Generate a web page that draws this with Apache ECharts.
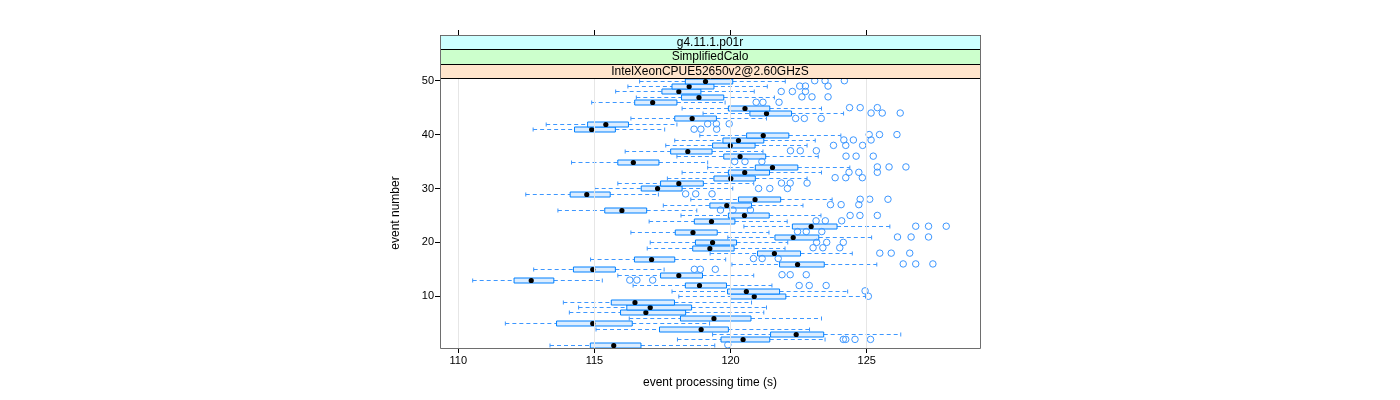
<!DOCTYPE html>
<html>
<head>
<meta charset="utf-8">
<script src="https://cdn.jsdelivr.net/npm/echarts@6/dist/echarts.min.js"></script>
<style>html,body{margin:0;padding:0;background:#fff;}#c{width:1400px;height:400px;}</style>
</head>
<body>
<div id="c"></div>
<script>
const events = [1,2,3,4,5,6,7,8,9,10,11,12,13,14,15,16,17,18,19,20,21,22,23,24,25,26,27,28,29,30,31,32,33,34,35,36,37,38,39,40,41,42,43,44,45,46,47,48,49,50];
const lowWhisker = [113.37,118.05,119.34,115.06,111.73,116.28,114.08,114.42,113.86,118.10,117.85,116.42,110.53,115.86,112.77,120.05,114.86,119.25,116.94,117.05,119.90,116.34,120.49,117.01,118.18,113.66,117.53,118.54,112.48,115.01,115.86,117.68,118.22,119.16,114.16,118.03,116.13,117.62,117.95,118.87,112.75,113.23,116.34,118.99,118.22,114.90,116.54,115.78,116.23,116.66];
const lowerQuartile = [114.85,119.65,121.47,117.39,113.61,118.16,115.96,116.19,115.62,120.00,119.89,118.34,112.05,117.43,114.23,121.80,116.47,120.99,118.61,118.71,121.63,117.97,122.27,118.67,119.92,115.38,119.24,120.29,114.11,116.72,117.43,119.39,119.92,120.91,115.86,119.75,117.80,119.34,119.72,120.59,114.27,114.75,117.95,120.71,119.92,116.48,118.20,117.48,117.85,118.34];
const median = [115.71,120.46,122.41,118.92,114.94,119.39,116.89,117.05,116.49,120.87,120.58,118.86,112.68,118.10,114.94,122.46,117.10,121.61,119.24,119.34,122.30,118.62,122.96,119.30,120.51,116.01,119.86,120.90,114.72,117.32,118.10,120.01,120.52,121.54,116.43,120.35,118.43,119.99,120.29,121.20,114.90,115.42,118.59,121.32,120.53,117.14,118.84,118.10,118.48,119.08];
const upperQuartile = [116.71,121.44,123.42,119.92,116.39,120.75,118.35,118.57,117.94,122.03,121.80,119.85,113.51,118.97,115.77,123.44,117.95,122.57,120.13,120.22,123.24,119.51,123.91,120.16,121.42,116.92,120.77,121.84,115.58,118.22,119.00,120.91,121.43,122.47,117.37,121.29,119.32,120.90,121.22,122.14,115.77,116.25,119.48,122.24,121.44,118.03,119.75,118.91,119.39,120.08];
const highWhisker = [119.42,123.47,126.25,122.90,119.23,123.34,121.22,121.32,120.77,124.99,124.30,121.52,115.29,120.85,117.56,125.37,119.82,124.47,122.00,122.10,125.18,121.41,125.85,122.08,123.32,118.76,122.66,123.73,117.35,120.08,120.85,122.81,123.34,124.38,119.16,123.22,121.19,122.81,123.11,124.05,117.58,118.03,121.32,124.15,123.34,119.80,121.61,120.87,121.35,122.01];
const outliers = [
  [119.90],
  [124.14,124.23,124.57,125.14],
  [], [], [], [], [], [], [],
  [125.06],
  [124.94],
  [122.52,122.89,123.51],
  [116.30,116.56,117.14],
  [121.89,122.19,122.78],
  [118.67,118.89,119.44],
  [126.34,126.80,127.43],
  [120.84,121.16,121.75],
  [125.48,125.90,126.58],
  [123.03,123.39,124.01],
  [123.16,123.53,124.14],
  [126.13,126.63,127.27],
  [122.46,122.78,123.35],
  [126.80,127.27,127.92],
  [123.14,123.48,124.08],
  [124.39,124.75,125.39],
  [119.63,120.09,120.73],
  [123.67,124.06,124.71],
  [124.76,125.11,125.78],
  [118.35,118.72,119.32],
  [121.03,121.44,122.09],
  [121.87,122.19,122.81],
  [123.84,124.23,124.84],
  [124.35,124.71,125.39],
  [125.39,125.82,126.44],
  [120.15,120.53,121.15],
  [124.24,124.61,125.24],
  [122.20,122.56,123.15],
  [123.78,124.23,124.85],
  [124.16,124.51,125.16],
  [125.09,125.47,126.11],
  [118.66,118.91,119.49],
  [119.16,119.48,119.95],
  [122.39,122.71,123.33],
  [125.16,125.57,126.23],
  [124.37,124.76,125.39],
  [120.94,121.19,121.78],
  [122.62,122.99,123.58],
  [121.86,122.27,122.75],
  [122.54,122.75,123.58],
  [123.09,123.47,124.18]
];
const xTicks = [110, 115, 120, 125];
const yTicks = [10, 20, 30, 40, 50];
const stripLabels = ['g4.11.1.p01r', 'SimplifiedCalo', 'IntelXeonCPUE52650v2@2.60GHzS'];
const stripColors = ['#ccffff', '#ccffcc', '#ffe5cc'];
const xTitle = 'event processing time (s)';
const yTitle = 'event number';

const FONT = 'Liberation Sans, Arial, Helvetica, sans-serif';
const BLUE = '#0080ff';

const boxData = events.map((e, i) => [e, lowWhisker[i], lowerQuartile[i], median[i], upperQuartile[i], highWhisker[i]]);
const outlierData = [];
events.forEach((e, i) => outliers[i].forEach(v => outlierData.push([v, e])));

const chart = echarts.init(document.getElementById('c'), null, {renderer: 'canvas'});

const PL = 440, PR = 980, PT = 78, PB = 348;
const stripTop = 35;
const stripH = (PT - stripTop) / 3;
const graphics = [];
stripLabels.forEach((lab, k) => {
  const y0 = stripTop + k * stripH;
  graphics.push({
    type: 'rect', z: 10,
    shape: {x: PL + 0.5, y: Math.round(y0) + 0.5, width: PR - PL, height: Math.round(y0 + stripH) - Math.round(y0)},
    style: {fill: stripColors[k], stroke: '#000', lineWidth: 1}
  });
  graphics.push({
    type: 'text', z: 11,
    style: {text: lab, x: (PL + PR) / 2, y: y0 + stripH / 2 + 0.5, align: 'center', verticalAlign: 'middle',
      font: '12px ' + FONT, fill: '#000'}
  });
});
graphics.push({
  type: 'rect', z: 12,
  shape: {x: PL + 0.5, y: stripTop + 0.5, width: PR - PL, height: PB - stripTop},
  style: {fill: 'none', stroke: '#6e6e6e', lineWidth: 1}
});

function renderBox(params, api) {
  const y = api.value(0);
  const lw = api.coord([api.value(1), y]);
  const q1 = api.coord([api.value(2), y]);
  const md = api.coord([api.value(3), y]);
  const q3 = api.coord([api.value(4), y]);
  const hw = api.coord([api.value(5), y]);
  const cy = Math.round(lw[1]) + 0.5;
  const dash = {stroke: '#3d97ff', lineWidth: 1, lineDash: [4, 3]};
  const solid = {stroke: '#3d97ff', lineWidth: 1};
  return {
    type: 'group',
    children: [
      {type: 'line', shape: {x1: lw[0], y1: cy, x2: q1[0], y2: cy}, style: dash},
      {type: 'line', shape: {x1: q3[0], y1: cy, x2: hw[0], y2: cy}, style: dash},
      {type: 'line', shape: {x1: lw[0], y1: cy - 2, x2: lw[0], y2: cy + 2}, style: solid},
      {type: 'line', shape: {x1: hw[0], y1: cy - 2, x2: hw[0], y2: cy + 2}, style: solid},
      {type: 'rect', shape: {x: q1[0], y: cy - 2.5, width: q3[0] - q1[0], height: 5},
        style: {fill: '#dcedff', stroke: BLUE, lineWidth: 1}},
      {type: 'circle', shape: {cx: md[0], cy: cy, r: 2.6}, style: {fill: '#000'}}
    ]
  };
}

const option = {
  backgroundColor: '#fff',
  animation: false,
  textStyle: {fontFamily: FONT},
  graphic: graphics,
  grid: {left: PL, right: 1400 - PR, top: PT, bottom: 400 - PB, show: false},
  xAxis: [
    {
      type: 'value', min: 109.33, max: 129.16, position: 'bottom',
      axisLine: {show: false},
      axisTick: {show: true, length: 5, customValues: xTicks, lineStyle: {color: '#000'}},
      axisLabel: {show: true, customValues: xTicks, fontSize: 11, color: '#000', margin: 7, fontFamily: FONT},
      splitLine: {show: false},
      name: xTitle, nameLocation: 'middle', nameGap: 29,
      nameTextStyle: {fontSize: 12, color: '#000', fontFamily: FONT}
    },
    {
      type: 'value', min: 109.33, max: 129.16, position: 'top', offset: PT - stripTop,
      axisLine: {show: false},
      axisTick: {show: true, length: 5, customValues: xTicks, lineStyle: {color: '#000'}},
      axisLabel: {show: false},
      splitLine: {show: false}
    }
  ],
  yAxis: {
    type: 'value', min: 0.4, max: 50.5,
    axisLine: {show: false},
    axisTick: {show: true, length: 5, customValues: yTicks, lineStyle: {color: '#000'}},
    axisLabel: {show: true, customValues: yTicks, fontSize: 11, color: '#000', margin: 6, fontFamily: FONT},
    splitLine: {show: false},
    name: yTitle, nameLocation: 'middle', nameRotate: 90, nameGap: 38,
    nameTextStyle: {fontSize: 12, color: '#000', fontFamily: FONT}
  },
  series: [
    {
      type: 'line', data: [], silent: true, z: 0,
      markLine: {
        silent: true, symbol: 'none', label: {show: false},
        lineStyle: {color: '#e6e6e6', type: 'solid', width: 1},
        data: xTicks.map(v => ({xAxis: v}))
      }
    },
    {
      type: 'custom', z: 3, renderItem: renderBox, data: boxData,
      encode: {x: [1, 2, 3, 4, 5], y: 0}, silent: true
    },
    {
      type: 'scatter', z: 4, data: outlierData, symbol: 'circle', symbolSize: 6.5,
      itemStyle: {color: 'rgba(255,255,255,0)', borderColor: '#3d97ff', borderWidth: 1, opacity: 1}, silent: true
    }
  ]
};
chart.setOption(option);
</script>
</body>
</html>
